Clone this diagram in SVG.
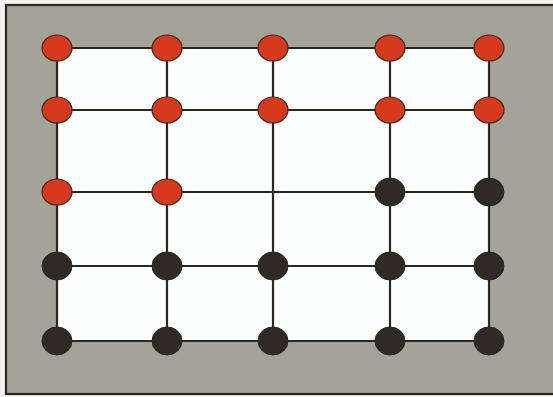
<svg xmlns="http://www.w3.org/2000/svg" width="553" height="397" viewBox="0 0 553 397">
<style>
.ln{stroke:#2a2620;stroke-width:2.2;fill:none}
.r{fill:#d63a1c;stroke:#3a2a1a;stroke-width:1.2}
.k{fill:#2f2b22;stroke:#2a2620;stroke-width:1}
</style>
<rect x="0" y="0" width="553" height="397" fill="#f4f2f0"/>
<rect x="6" y="5" width="549" height="389" fill="#a3a397" stroke="#2a2620" stroke-width="2.2"/>
<rect x="57" y="48" width="432" height="293" fill="#fdfefe"/>
<g id="connectors">
<path class="ln" d="M57 48H489M57 110H489M57 192H489M57 266H489M57 341H489M57 48V341M167 48V341M273 48V341M390 48V341M489 48V341"/>
</g>
<g id="n11"><ellipse class="r" cx="57" cy="48" rx="15" ry="13"/></g>
<g id="n12"><ellipse class="r" cx="167" cy="48" rx="15" ry="13"/></g>
<g id="n13"><ellipse class="r" cx="273" cy="48" rx="15" ry="13"/></g>
<g id="n14"><ellipse class="r" cx="390" cy="48" rx="15" ry="13"/></g>
<g id="n15"><ellipse class="r" cx="489" cy="48" rx="15" ry="13"/></g>
<g id="n21"><ellipse class="r" cx="57" cy="110" rx="15" ry="13"/></g>
<g id="n22"><ellipse class="r" cx="167" cy="110" rx="15" ry="13"/></g>
<g id="n23"><ellipse class="r" cx="273" cy="110" rx="15" ry="13"/></g>
<g id="n24"><ellipse class="r" cx="390" cy="110" rx="15" ry="13"/></g>
<g id="n25"><ellipse class="r" cx="489" cy="110" rx="15" ry="13"/></g>
<g id="n31"><ellipse class="r" cx="57" cy="192" rx="15" ry="13"/></g>
<g id="n32"><ellipse class="r" cx="167" cy="192" rx="15" ry="13"/></g>
<g id="n34"><ellipse class="k" cx="390" cy="192" rx="15" ry="14"/></g>
<g id="n35"><ellipse class="k" cx="489" cy="192" rx="15" ry="14"/></g>
<g id="n41"><ellipse class="k" cx="57" cy="266" rx="15" ry="14"/></g>
<g id="n42"><ellipse class="k" cx="167" cy="266" rx="15" ry="14"/></g>
<g id="n43"><ellipse class="k" cx="273" cy="266" rx="15" ry="14"/></g>
<g id="n44"><ellipse class="k" cx="390" cy="266" rx="15" ry="14"/></g>
<g id="n45"><ellipse class="k" cx="489" cy="266" rx="15" ry="14"/></g>
<g id="n51"><ellipse class="k" cx="57" cy="341" rx="15" ry="14"/></g>
<g id="n52"><ellipse class="k" cx="167" cy="341" rx="15" ry="14"/></g>
<g id="n53"><ellipse class="k" cx="273" cy="341" rx="15" ry="14"/></g>
<g id="n54"><ellipse class="k" cx="390" cy="341" rx="15" ry="14"/></g>
<g id="n55"><ellipse class="k" cx="489" cy="341" rx="15" ry="14"/></g>
</svg>
